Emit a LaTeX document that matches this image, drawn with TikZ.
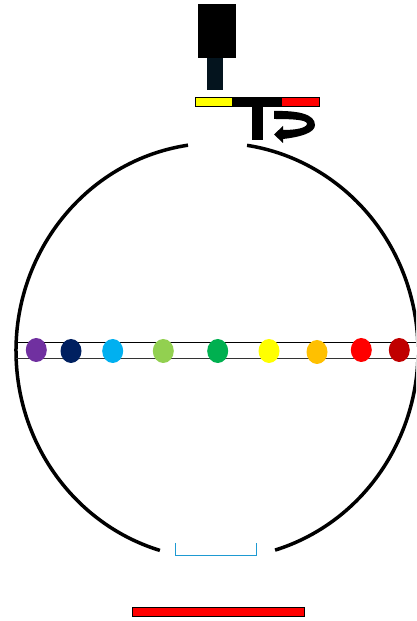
\documentclass[tikz,border=0pt]{standalone}
\usetikzlibrary{calc,shapes.geometric}
\definecolor{stem}{HTML}{04141E}
\definecolor{bracket}{HTML}{1E9AD2}
\definecolor{dpurple}{HTML}{7030A0}
\definecolor{dnavy}{HTML}{002060}
\definecolor{dsky}{HTML}{00B0F0}
\definecolor{dlime}{HTML}{92D050}
\definecolor{dgreen}{HTML}{00B050}
\definecolor{dyellow}{HTML}{FFFF00}
\definecolor{dorange}{HTML}{FFC000}
\definecolor{dred}{HTML}{FF0000}
\definecolor{ddark}{HTML}{C00000}
\tikzset{
  sphereline/.style={draw=black,line width=3.5pt,line cap=butt},
  rail/.style={draw=black!80,line width=1.4pt},
  outlined/.style={draw=black,line width=1pt},
  dotmark/.style={ellipse,inner sep=0pt,minimum width=21pt,minimum height=24pt,fill=#1,draw=none}
}
\begin{document}
\begin{tikzpicture}[x=1pt,y=1pt]
\useasboundingbox (0,0) rectangle (416,621);
\clip (0,0) rectangle (416,621);
% py -> 621-py
\coordinate (c) at (217,270);
\draw[sphereline] ($(c)+(98.3:201pt and 208pt)$) arc[start angle=98.3,end angle=253.5,x radius=201pt,y radius=208pt];
\draw[sphereline] ($(c)+(-73.2:201pt and 208pt)$) arc[start angle=-73.2,end angle=81.4,x radius=201pt,y radius=208pt];
% rails
\draw[draw=black,line width=1.2pt] (16,278.3) -- (416,278.3);
\draw[rail] (16,262.3) -- (416,262.3);
% dots
\node[dotmark=dpurple] (d1) at (36.3,271) {};
\node[dotmark=dnavy] (d2) at (71,270) {};
\node[dotmark=dsky] (d3) at (112.7,270) {};
\node[dotmark=dlime] (d4) at (163.3,270) {};
\node[dotmark=dgreen] (d5) at (217.7,270) {};
\node[dotmark=dyellow] (d6) at (269,270) {};
\node[dotmark=dorange] (d7) at (317,269) {};
\node[dotmark=dred] (d8) at (361.3,271) {};
\node[dotmark=ddark] (d9) at (399.3,271) {};
% camera
\fill[black] (198,563) rectangle (236,617);
\fill[stem] (207,531) rectangle (223,563);
% bar
\fill[black] (232,513.5) rectangle (282,524);
\draw[outlined,fill=dyellow] (195.5,514) rectangle (232,523.5);
\draw[outlined,fill=dred] (281.5,514) rectangle (319,523.5);
\fill[black] (252,481) rectangle (263,515);
% curved arrow
\fill[black] (274,510) .. controls (298,510.5) and (315,507) .. (315,496)
  .. controls (315,488) and (300,484) .. (283,482)
  -- (283,478) -- (274,486.5) -- (283,495) -- (283,491)
  .. controls (296,491) and (307,493) .. (307,497.5)
  .. controls (306,501) and (295,502) .. (274,502) -- cycle;
% bracket
\draw[bracket,line width=1.1pt] (175.7,78) -- (175.7,65.5) -- (256.7,65.5) -- (256.7,78);
% base
\draw[outlined,fill=dred] (132,4) rectangle (304.5,13);
\end{tikzpicture}
\end{document}
